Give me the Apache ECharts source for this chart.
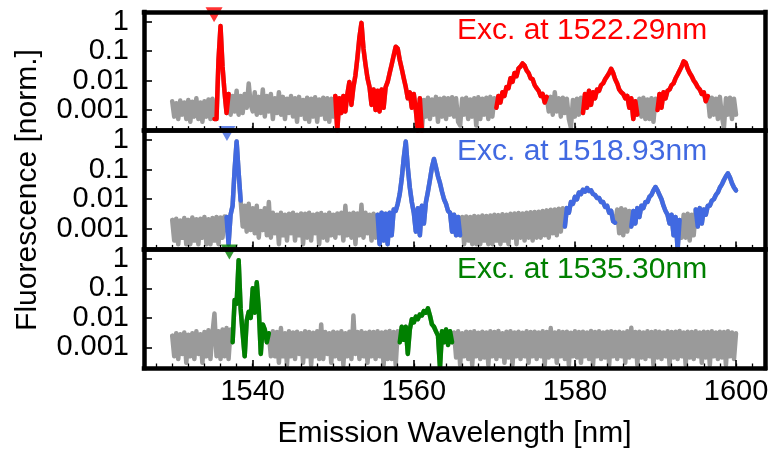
<!DOCTYPE html>
<html>
<head>
<meta charset="utf-8">
<script src="https://cdn.jsdelivr.net/npm/echarts@6/dist/echarts.min.js"></script>
<style>html,body{margin:0;padding:0;background:#fff}#c{width:772px;height:450px}</style>
</head>
<body>
<div id="c"></div>
<script>
// Emission wavelength grid: 1530 .. 1600 nm, 0.25 nm sampling (one row = 5 nm)
const wlStart = 1530, wlStep = 0.25;

// Panel 1: Exc. at 1522.29nm
const redValues = [
  0.002,0.0006,0.0017,0.0005,0.0021,0.0007,0.0018,0.0005,0.0022,0.0004,0.0019,0.0006,0.0025,0.0005,0.0018,0.0004,0.002,0.0006,0.0023,0.0005,
  0.0024,0.0005,0.0005,0.05,0.7,0.03,0.004,0.0008,0.0035,0.0007,0.003,0.0009,0.0045,0.0007,0.003,0.0008,0.0035,0.0012,0.008,0.0015,
  0.0009,0.004,0.0007,0.0028,0.0008,0.005,0.0006,0.003,0.0009,0.0035,0.0005,0.0025,0.0008,0.004,0.0007,0.0028,0.0005,0.0024,0.0008,0.003,
  0.0006,0.0025,0.0004,0.0028,0.0007,0.0022,0.0005,0.0026,0.0004,0.0024,0.0006,0.0027,0.0004,0.0023,0.0007,0.0026,0.0005,0.0025,0.0004,0.0024,
  0.0006,0.003,0.0002,0.0025,0.0008,0.003,0.0009,0.0035,0.009,0.0015,0.006,0.015,0.06,0.3,0.9,0.12,0.035,0.012,0.006,0.0015,
  0.005,0.001,0.0045,0.0009,0.005,0.0012,0.006,0.009,0.018,0.035,0.07,0.14,0.12,0.05,0.025,0.012,0.006,0.0025,0.004,0.0012,
  0.0035,0.001,0.0002,0.0025,0.0002,0.0022,0.0006,0.0026,0.0005,0.0023,0.0007,0.0028,0.0004,0.0024,0.0006,0.0026,0.0005,0.0025,0.0007,0.0027,
  0.0006,0.0025,0.0004,0.0003,0.0024,0.0007,0.0026,0.0005,0.0023,0.0006,0.0025,0.0003,0.0027,0.0005,0.0024,0.0007,0.0026,0.0005,0.0028,0.0006,
  0.0025,0.0012,0.003,0.0018,0.004,0.003,0.006,0.0055,0.012,0.009,0.018,0.014,0.026,0.03,0.038,0.032,0.022,0.018,0.012,0.011,
  0.007,0.0055,0.0045,0.003,0.0035,0.0018,0.0028,0.0009,0.0028,0.0007,0.004,0.0009,0.0025,0.0006,0.0026,0.0008,0.0024,0.0005,0.00025,0.0022,
  0.0006,0.0024,0.0007,0.0026,0.0008,0.0035,0.0012,0.0045,0.0015,0.004,0.0025,0.005,0.0045,0.007,0.008,0.011,0.014,0.018,0.025,0.018,
  0.011,0.008,0.005,0.004,0.0035,0.0025,0.003,0.0012,0.0025,0.0005,0.002,0.0007,0.0024,0.0006,0.0026,0.0005,0.0023,0.0005,0.0025,0.0004,
  0.0024,0.001,0.0035,0.0012,0.004,0.0025,0.0045,0.005,0.007,0.008,0.012,0.016,0.022,0.03,0.045,0.04,0.025,0.018,0.014,0.01,
  0.008,0.006,0.005,0.0035,0.004,0.002,0.003,0.0006,0.0026,0.0007,0.0024,0.0005,0.0028,0.0006,0.00025,0.0025,0.0007,0.0026,0.0005,0.0024,
  0.0007
];
const redRanges = [[1535.25,1537.0],[1550.25,1561.0],[1570.25,1576.5],[1581.0,1587.75],[1590.25,1596.5]];

// Panel 2: Exc. at 1518.93nm
const blueValues = [
  0.002,0.0004,0.0022,0.0003,0.0019,0.0005,0.0023,0.0003,0.002,0.0003,0.0024,0.0004,0.0021,0.0003,0.0022,0.0005,0.0025,0.0003,0.0021,0.0003,
  0.0023,0.0004,0.0025,0.0003,0.0024,0.0005,0.0026,0.0025,0.0003,0.003,0.006,0.1,0.9,0.08,0.009,0.0012,0.006,0.0008,0.007,0.0009,
  0.005,0.0007,0.006,0.0005,0.004,0.0009,0.005,0.0006,0.008,0.0005,0.0035,0.0007,0.003,0.0003,0.0035,0.0006,0.003,0.0004,0.0032,0.0007,
  0.0035,0.0004,0.003,0.0006,0.0033,0.0003,0.0032,0.0005,0.0035,0.0004,0.003,0.0007,0.0032,0.0003,0.0034,0.0005,0.003,0.0004,0.0035,0.0006,
  0.003,0.0005,0.0033,0.0007,0.0035,0.0004,0.006,0.0006,0.0032,0.0005,0.0035,0.0003,0.0033,0.0006,0.0065,0.0005,0.0035,0.0007,0.003,0.0004,
  0.0032,0.0005,0.003,0.0003,0.0035,0.0004,0.0032,0.0003,0.0035,0.0006,0.0045,0.004,0.007,0.015,0.05,0.25,0.9,0.12,0.025,0.008,
  0.0035,0.0008,0.005,0.0006,0.006,0.0015,0.008,0.018,0.045,0.12,0.23,0.12,0.06,0.035,0.018,0.01,0.007,0.004,0.0035,0.0008,
  0.003,0.0006,0.0025,0.0006,0.0025,0.0003,0.0026,0.0004,0.0025,0.0003,0.0027,0.0003,0.0026,0.0003,0.0028,0.0004,0.0027,0.0003,0.0028,0.0003,
  0.003,0.0004,0.0029,0.0003,0.0031,0.0004,0.003,0.0003,0.0032,0.0005,0.0033,0.0003,0.0034,0.0005,0.0033,0.0004,0.0035,0.0005,0.0036,0.0004,
  0.0037,0.0005,0.0038,0.0005,0.004,0.0006,0.0042,0.0005,0.0044,0.0007,0.0045,0.0006,0.0048,0.0008,0.005,0.0012,0.005,0.0035,0.008,0.007,
  0.012,0.01,0.017,0.015,0.021,0.018,0.024,0.019,0.02,0.015,0.014,0.011,0.011,0.008,0.008,0.0055,0.006,0.0035,0.004,0.0018,
  0.0016,0.0045,0.0007,0.005,0.0006,0.0045,0.0008,0.004,0.0012,0.004,0.0015,0.005,0.0025,0.006,0.005,0.008,0.008,0.012,0.014,0.02,
  0.026,0.02,0.014,0.01,0.006,0.004,0.003,0.0015,0.003,0.0006,0.0025,0.0002,0.002,0.0005,0.003,0.0005,0.0032,0.0004,0.003,0.0006,
  0.0045,0.0012,0.005,0.0015,0.0045,0.003,0.006,0.006,0.009,0.01,0.014,0.017,0.025,0.032,0.045,0.06,0.075,0.055,0.035,0.025,
  0.02
];
const blueRanges = [[1536.75,1538.5],[1555.5,1565.75],[1578.75,1585.0],[1587.0,1593.0],[1595.0,1600.0]];

// Panel 3: Exc. at 1535.30nm
const greenValues = [
  0.0025,0.0005,0.003,0.0004,0.0028,0.0006,0.0032,0.0003,0.0027,0.0005,0.003,0.0004,0.0035,0.0006,0.0028,0.0003,0.0033,0.0005,0.0038,0.0004,
  0.003,0.014,0.0005,0.0035,0.0004,0.004,0.0005,0.0045,0.0004,0.004,0.0015,0.04,0.03,0.9,0.02,0.003,0.0005,0.008,0.016,0.01,
  0.1,0.015,0.16,0.02,0.0006,0.006,0.004,0.0015,0.003,0.0005,0.0035,0.0005,0.0033,0.0003,0.0045,0.0005,0.003,0.00025,0.0035,0.0005,
  0.0032,0.0004,0.0034,0.0006,0.003,0.0003,0.0035,0.0005,0.0033,0.00025,0.0031,0.0005,0.0035,0.0004,0.006,0.0004,0.0033,0.0006,0.003,0.0003,
  0.0034,0.0005,0.0032,0.0004,0.0035,0.00025,0.003,0.0005,0.0034,0.0004,0.012,0.0006,0.0033,0.0004,0.0035,0.0005,0.0031,0.0003,0.0034,0.0005,
  0.0033,0.0004,0.0035,0.0005,0.0032,0.00025,0.0034,0.0004,0.0036,0.0004,0.0033,0.00025,0.0035,0.0015,0.005,0.0018,0.005,0.0006,0.004,0.009,
  0.007,0.011,0.009,0.013,0.012,0.017,0.015,0.021,0.012,0.006,0.005,0.0035,0.0025,0.0002,0.0035,0.0015,0.004,0.0012,0.0035,0.0015,
  0.0032,0.00045,0.0035,0.00025,0.003,0.0005,0.0034,0.0004,0.0033,0.00025,0.0035,0.0005,0.0031,0.0004,0.0034,0.00045,0.0032,0.00025,0.0035,0.0005,
  0.0033,0.0004,0.0036,0.0005,0.003,0.0003,0.0034,0.00045,0.0035,0.00025,0.0032,0.0005,0.0034,0.0004,0.0031,0.0005,0.0035,0.0003,0.0033,0.0005,
  0.0034,0.0004,0.0032,0.0005,0.0035,0.00025,0.0033,0.00045,0.0045,0.0005,0.0032,0.0003,0.0035,0.0005,0.0033,0.0004,0.0034,0.00025,0.0031,0.0005,
  0.0035,0.00045,0.0033,0.0003,0.0034,0.0005,0.0032,0.0004,0.0036,0.00025,0.0033,0.0005,0.0035,0.0004,0.0032,0.00045,0.0034,0.00025,0.0035,0.0005,
  0.0033,0.0004,0.0034,0.0005,0.0032,0.0003,0.0035,0.00045,0.0046,0.0005,0.0033,0.00025,0.0034,0.00045,0.0032,0.0004,0.0035,0.0005,0.0033,0.00025,
  0.0035,0.00045,0.0034,0.0004,0.0032,0.0005,0.0035,0.00025,0.0033,0.00045,0.0034,0.0004,0.0036,0.0005,0.0032,0.00025,0.0034,0.00045,0.0033,0.0004,
  0.0035,0.0005,0.0032,0.0003,0.0034,0.00045,0.0033,0.00025,0.0035,0.0005,0.0032,0.0004,0.0034,0.00045,0.0033,0.00025,0.0035,0.0005,0.0032,0.0004,
  0.003
];
const greenRanges = [[1537.5,1542.0],[1558.25,1564.75]];

const excLabels = ['Exc. at 1522.29nm','Exc. at 1518.93nm','Exc. at 1535.30nm'];
const markerWl = [1535.2, 1536.8, 1537.1];
const markerLevel = [1.7, 1.7, 1.7];
const xTickValues = [1540, 1560, 1580, 1600];
const xMinorTicks = [1528,1530,1532,1534,1536,1538,1540,1542,1544,1546,1548,1550,1552,1554,1556,1558,1560,
  1562,1564,1566,1568,1570,1572,1574,1576,1578,1580,1582,1584,1586,1588,1590,1592,1594,1596,1598,1600,1602];
const yTickValues = [1, 0.1, 0.01, 0.001];
const yTickLabels = ['1', '0.1', '0.01', '0.001'];

const FONT = '"Liberation Sans", Arial, sans-serif';
const GRAY = '#9a9a9a';
const X_MIN = 1526.5, X_MAX = 1603.6, Y_MIN = 0.0002, Y_MAX = 2.1;
const FRAME = 4.5, LW = 4.5;
const gridTops = [12, 130.7, 249.3], gridH = 118.7;

const panels = [
  {vals: redValues, ranges: redRanges, color: '#ff0000', labelY: 31},
  {vals: blueValues, ranges: blueRanges, color: '#4169e1', labelY: 152},
  {vals: greenValues, ranges: greenRanges, color: '#008000', labelY: 270}
];

function fullData(vals) {
  return vals.map((v, i) => [wlStart + i * wlStep, v]);
}
function rangeData(vals, ranges) {
  return vals.map((v, i) => {
    const x = wlStart + i * wlStep;
    const inside = ranges.some(r => x >= r[0] - 1e-9 && x <= r[1] + 1e-9);
    return [x, inside ? v : '-'];
  });
}
function yFmt(v) {
  const e = Math.log10(v);
  for (let k = 0; k < yTickValues.length; k++) {
    if (Math.abs(Math.log10(yTickValues[k]) - e) < 1e-6) return yTickLabels[k];
  }
  return '';
}
const frameLine = {show: true, onZero: false, lineStyle: {color: '#000', width: FRAME, cap: 'square'}};

const grid = [], xAxis = [], yAxis = [], series = [], graphic = [];
panels.forEach((p, i) => {
  const last = i === panels.length - 1;
  grid.push({left: 144, right: 7, top: gridTops[i], height: gridH, containLabel: false, outerBoundsMode: 'none'});
  xAxis.push({
    type: 'value', gridIndex: i, position: 'bottom', min: X_MIN, max: X_MAX, z: 10,
    axisLine: frameLine,
    axisTick: {show: true, inside: true, length: 8, customValues: xTickValues, lineStyle: {color: '#000', width: 1.6}},
    axisLabel: {show: last, customValues: xTickValues, fontSize: 29, color: '#000', fontFamily: FONT, margin: 9,
      formatter: v => String(v)},
    splitLine: {show: false},
    name: last ? 'Emission Wavelength [nm]' : '', nameLocation: 'middle', nameGap: 51,
    nameTextStyle: {fontSize: 30, color: '#000', fontFamily: FONT}
  });
  xAxis.push({
    type: 'value', gridIndex: i, position: 'bottom', min: X_MIN, max: X_MAX, z: 10,
    axisLine: {show: false},
    axisTick: {show: true, inside: true, length: 4.5, customValues: xMinorTicks, lineStyle: {color: '#000', width: 1.3}},
    axisLabel: {show: false}, splitLine: {show: false}
  });
  xAxis.push({
    type: 'value', gridIndex: i, position: 'top', min: 0, max: 1, z: 10,
    axisLine: frameLine, axisTick: {show: false}, axisLabel: {show: false}, splitLine: {show: false}
  });
  yAxis.push({
    type: 'log', logBase: 10, gridIndex: i, position: 'left', min: Y_MIN, max: Y_MAX, z: 10,
    axisLine: frameLine,
    axisTick: {show: true, inside: true, length: 8, lineStyle: {color: '#000', width: 1.6}},
    minorTick: {show: false},
    axisLabel: {fontSize: 29, color: '#000', fontFamily: FONT, margin: 15, formatter: yFmt,
      showMinLabel: false, showMaxLabel: false},
    splitLine: {show: false}
  });
  yAxis.push({
    type: 'value', gridIndex: i, position: 'right', min: 0, max: 1, z: 10,
    axisLine: frameLine, axisTick: {show: false}, axisLabel: {show: false}, splitLine: {show: false}
  });
  series.push({
    type: 'line', xAxisIndex: 3 * i, yAxisIndex: 2 * i, data: fullData(p.vals),
    showSymbol: false, symbol: 'none', silent: true, z: 2,
    lineStyle: {color: GRAY, width: LW, join: 'round', cap: 'round'}, itemStyle: {color: GRAY}
  });
  series.push({
    type: 'line', xAxisIndex: 3 * i, yAxisIndex: 2 * i, data: rangeData(p.vals, p.ranges),
    showSymbol: false, symbol: 'none', silent: true, z: 3, connectNulls: false,
    lineStyle: {color: p.color, width: LW, join: 'round', cap: 'round'}, itemStyle: {color: p.color}
  });
  series.push({
    type: 'scatter', xAxisIndex: 3 * i, yAxisIndex: 2 * i, data: [[markerWl[i], markerLevel[i]]],
    symbol: 'triangle', symbolRotate: 180, symbolSize: [17, 15], silent: true, z: 4,
    itemStyle: {color: p.color}
  });
  graphic.push({
    type: 'text', x: 457, y: p.labelY, z: 20,
    style: {text: excLabels[i], fill: p.color, fontSize: 30, fontFamily: FONT, align: 'left', verticalAlign: 'middle'}
  });
});
graphic.push({
  type: 'text', x: 28, y: 190, rotation: Math.PI / 2, z: 20,
  style: {text: 'Fluorescence [norm.]', fill: '#000', fontSize: 30, fontFamily: FONT, align: 'center', verticalAlign: 'middle'}
});

const chart = echarts.init(document.getElementById('c'), null, {renderer: 'canvas', width: 772, height: 450});
chart.setOption({
  animation: false,
  backgroundColor: '#ffffff',
  grid, xAxis, yAxis, series, graphic
});
</script>
</body>
</html>
